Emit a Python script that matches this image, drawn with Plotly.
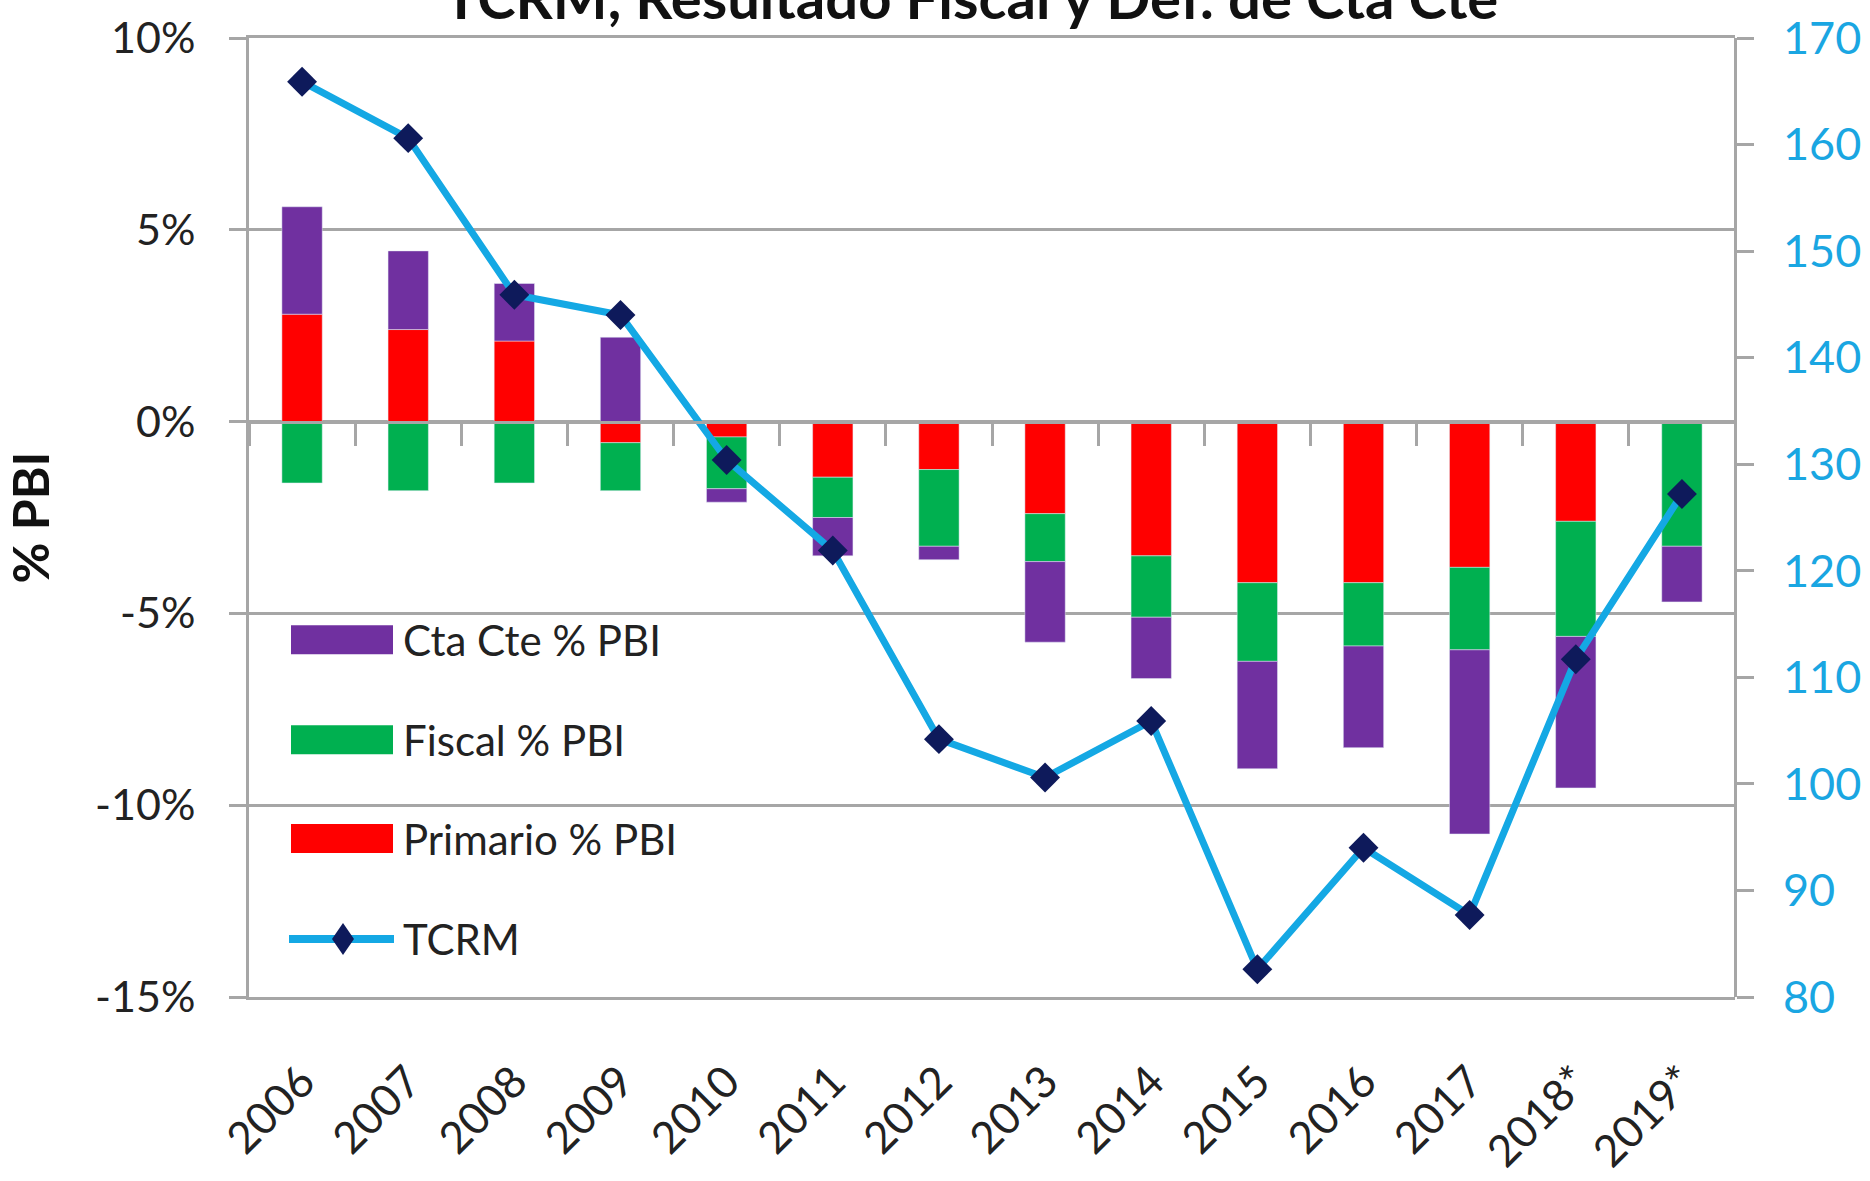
import plotly.graph_objects as go

# ---------------- data ----------------
years = ["2006", "2007", "2008", "2009", "2010", "2011", "2012",
         "2013", "2014", "2015", "2016", "2017", "2018*", "2019*"]
primario = [2.8, 2.4, 2.1, -0.55, -0.4, -1.45, -1.25, -2.4, -3.5, -4.2, -4.2, -3.8, -2.6, 0.0]
fiscal = [-1.6, -1.8, -1.6, -1.25, -1.35, -1.05, -2.0, -1.25, -1.6, -2.05, -1.65, -2.15, -3.0, -3.25]
cta_cte = [2.8, 2.05, 1.5, 2.2, -0.35, -1.0, -0.35, -2.1, -1.6, -2.8, -2.65, -4.8, -3.95, -1.45]
tcrm = [165.9, 160.6, 145.9, 144.0, 130.4, 121.9, 104.2, 100.6, 105.9, 82.6, 94.0, 87.7, 111.7, 127.2]

left_tickvals = [-15, -10, -5, 0, 5, 10]
left_ticktext = ["-15%", "-10%", "-5%", "0%", "5%", "10%"]
right_tickvals = [80, 90, 100, 110, 120, 130, 140, 150, 160, 170]

series_names = ["Primario % PBI", "Fiscal % PBI", "Cta Cte % PBI", "TCRM"]
title_text = "TCRM, Resultado Fiscal y Def. de Cta Cte"

# ---------------- style ----------------
W, H = 1870, 1181
PL, PR, PT, PB = 249, 1735, 37.5, 997  # plot area in pixels
RED, GREEN, PURPLE = "#FF0000", "#00B050", "#7030A0"
LINE_BLUE, NAVY = "#14A8E4", "#0E1A5B"
GRID = "#A6A6A6"
TXT = "#222222"
FONT = "Lato"


def fx(px):
    return (px - PL) / (PR - PL)


def fy(py):
    return (PB - py) / (PB - PT)


fig = go.Figure()
bar_w = 0.38
fig.add_trace(go.Bar(x=years, y=primario, name=series_names[0], marker_color=RED,
                     width=bar_w, showlegend=False))
fig.add_trace(go.Bar(x=years, y=fiscal, name=series_names[1], marker_color=GREEN,
                     width=bar_w, showlegend=False))
fig.add_trace(go.Bar(x=years, y=cta_cte, name=series_names[2], marker_color=PURPLE,
                     width=bar_w, showlegend=False))
fig.add_trace(go.Scatter(x=years, y=tcrm, name=series_names[3], xaxis="x2", yaxis="y2",
                         mode="lines+markers",
                         line=dict(color=LINE_BLUE, width=7),
                         marker=dict(symbol="diamond", size=23, color=NAVY,
                                     line=dict(width=0)),
                         showlegend=False))

# ---------------- custom legend ----------------
shapes = []
shapes.append(dict(type="rect", xref="paper", yref="paper",
                   x0=fx(252), x1=fx(716), y0=fy(985), y1=fy(585),
                   fillcolor="white", line=dict(width=0), layer="between"))
rows = [(series_names[2], PURPLE, 639.5), (series_names[1], GREEN, 739.5),
        (series_names[0], RED, 838.5)]
annotations = []
for name, col, cy in rows:
    shapes.append(dict(type="rect", xref="paper", yref="paper",
                       x0=fx(291), x1=fx(393), y0=fy(cy + 14.5), y1=fy(cy - 14.5),
                       fillcolor=col, line=dict(width=0), layer="above"))
    annotations.append(dict(text=name, xref="paper", yref="paper", x=fx(401), y=fy(cy),
                            xanchor="left", yanchor="middle", showarrow=False,
                            font=dict(family=FONT, size=42, color=TXT)))
ty = 939
shapes.append(dict(type="line", xref="paper", yref="paper", x0=fx(289), x1=fx(394),
                   y0=fy(ty), y1=fy(ty), line=dict(color=LINE_BLUE, width=8), layer="above"))
shapes.append(dict(type="path", xref="paper", yref="paper",
                   path=f"M {fx(343)},{fy(ty-16)} L {fx(354)},{fy(ty)} L {fx(343)},{fy(ty+16)} L {fx(332)},{fy(ty)} Z",
                   fillcolor=NAVY, line=dict(width=0), layer="above"))
annotations.append(dict(text=series_names[3], xref="paper", yref="paper", x=fx(401), y=fy(ty),
                        xanchor="left", yanchor="middle", showarrow=False,
                        font=dict(family=FONT, size=42, color=TXT)))

fig.update_layout(
    width=W, height=H,
    margin=dict(l=PL, r=W - PR, t=PT, b=H - PB, pad=0),
    paper_bgcolor="white", plot_bgcolor="white",
    barmode="relative",
    font=dict(family=FONT, color=TXT),
    title=dict(text=title_text, x=971 / W, xanchor="center", xref="container",
               yref="container", y=1 - 19 / H, yanchor="bottom",
               font=dict(family=FONT, size=58, color="#111111", weight="bold")),
    xaxis=dict(type="category", range=[-0.5, 13.5], showgrid=False, zeroline=False,
               showline=True, mirror=True, linecolor=GRID, linewidth=3,
               ticks="", tickangle=-45, ticklabelstandoff=38,
               tickfont=dict(family=FONT, size=44, color=TXT), automargin=False),
    xaxis2=dict(type="category", range=[-0.5, 13.5], overlaying="x", anchor="free",
                position=15 / 25, showgrid=False, zeroline=False, showline=True,
                linecolor=GRID, linewidth=3, ticks="outside", ticklen=22, tickwidth=3,
                tickcolor=GRID, tickson="boundaries", showticklabels=False, automargin=False),
    yaxis=dict(range=[-15, 10], tickvals=left_tickvals, ticktext=left_ticktext,
               showgrid=True, gridcolor=GRID, gridwidth=3, zeroline=False,
               showline=True, linecolor=GRID, linewidth=3,
               ticks="outside", ticklen=17, tickwidth=3, tickcolor=GRID,
               ticklabelstandoff=25,
               tickfont=dict(family=FONT, size=43, color=TXT),
               title=dict(text="% PBI", standoff=30,
                          font=dict(family=FONT, size=50, color="#111111", weight="bold")),
               automargin=False),
    yaxis2=dict(range=[80, 170], tickvals=right_tickvals, overlaying="y", side="right",
                anchor="free", position=1.0, showgrid=False, zeroline=False,
                showline=True, linecolor=GRID, linewidth=3,
                ticks="outside", ticklen=17, tickwidth=3, tickcolor=GRID,
                ticklabelstandoff=20,
                tickfont=dict(family=FONT, size=45, color="#1AA6E2"), automargin=False),
    shapes=shapes, annotations=annotations,
)

fig.write_html("out.html", config={"displayModeBar": False},
               post_script="document.body.style.margin='0';")
